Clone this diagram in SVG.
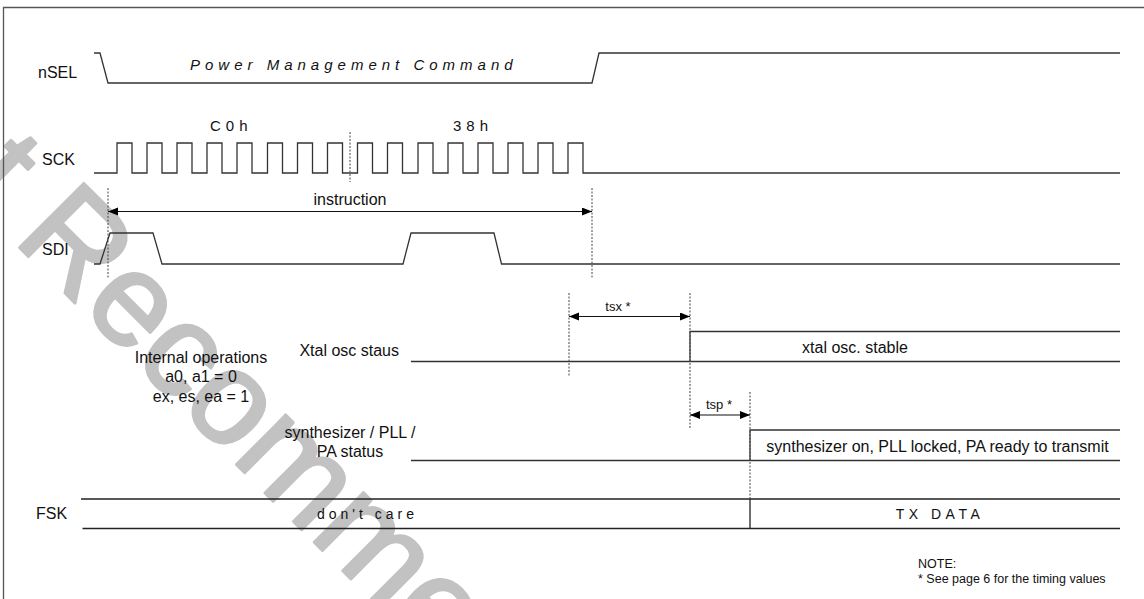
<svg xmlns="http://www.w3.org/2000/svg" width="1144" height="599" viewBox="0 0 1144 599">
<style>
.t{font-family:"Liberation Sans",Arial,sans-serif;font-size:16px;fill:#111}
.s{font-size:13px}
.n{font-size:12.5px}
.sp{font-size:14px;letter-spacing:4px}
.w{fill:none;stroke:#333;stroke-width:1.3}
.d{fill:none;stroke:#444;stroke-width:1;stroke-dasharray:2,1.5}
.a{fill:none;stroke:#111;stroke-width:1.2;marker-start:url(#ah);marker-end:url(#ah)}
.wm{font-family:"Liberation Sans",Arial,sans-serif;font-size:132px;fill:#c2c2c2;stroke:#c2c2c2;stroke-width:3;stroke-linejoin:round}
</style>
<defs>
<marker id="ah" markerUnits="userSpaceOnUse" markerWidth="11" markerHeight="9" refX="10" refY="4" orient="auto-start-reverse" viewBox="0 0 11 9">
<path d="M0,0 L10,4 L0,8 z" fill="#000"/>
</marker>
</defs>
<rect width="1144" height="599" fill="#fff"/>
<g id="watermark">
<text class="wm" x="-242" y="0" transform="translate(12,240) rotate(45)">Not Recommended</text>
</g>
<g id="frame">
<path d="M3.5,600 V7.5 H1144" fill="none" stroke="#555" stroke-width="1.3"/>
</g>
<g id="nSEL">
<text class="t" x="38" y="78">nSEL</text>
<path class="w" d="M94,53 H100 L108,83 H592 L599,53 H1120"/>
<text class="t" x="190" y="70" style="font-size:15px;font-style:italic;letter-spacing:5px">Power Management Command</text>
</g>
<g id="SCK">
<text class="t" x="42" y="165">SCK</text>
<path class="w" d="M94,173 H117 V143 H132 V173 H147 V143 H162 V173 H177 V143 H192 V173 H207 V143 H222 V173 H237 V143 H252 V173 H267.5 V143 H282.5 V173 H297.5 V143 H312.5 V173 H327.5 V143 H342.5 V173 H357.5 V143 H372.5 V173 H387.5 V143 H402.5 V173 H418 V143 H433 V173 H448 V143 H463 V173 H478 V143 H493 V173 H508 V143 H523 V173 H538 V143 H553 V173 H568 V143 H583 V173 H1120"/>
<text class="t" x="210" y="131" style="font-size:15px;letter-spacing:5px">C0h</text>
<text class="t" x="453" y="131" style="font-size:15px;letter-spacing:5px">38h</text>
</g>
<g id="SDI">
<text class="t" x="42" y="255">SDI</text>
<path class="w" d="M94,264 H100 L110,233 H153 L162,264 H403 L411,233 H494 L501.5,264 H1120"/>
</g>
<g id="internal-operations">
<text class="t" x="201" y="362.5" text-anchor="middle">Internal operations</text>
<text class="t" x="201" y="382" text-anchor="middle">a0, a1 = 0</text>
<text class="t" x="201" y="401.5" text-anchor="middle">ex, es, ea = 1</text>
</g>
<g id="xtal">
<text class="t" x="399" y="356" text-anchor="end">Xtal osc staus</text>
<path class="w" d="M411,361.5 H1120 M690,361.5 V331.5 H1120"/>
<text class="t" x="855" y="353" text-anchor="middle">xtal osc. stable</text>
</g>
<g id="synth">
<text class="t" x="350" y="438" text-anchor="middle">synthesizer / PLL /</text>
<text class="t" x="350" y="457" text-anchor="middle">PA status</text>
<path class="w" d="M411,460.5 H1120 M750,460.5 V430 H1120"/>
<text class="t" x="937.5" y="452" text-anchor="middle">synthesizer on, PLL locked, PA ready to transmit</text>
</g>
<g id="FSK">
<text class="t" x="36" y="519">FSK</text>
<path class="w" d="M81,499 H1120 M82.5,528.5 H1120 M750,499 V528.5" style="stroke:#222"/>
<text class="t sp" x="317" y="519">don't care</text>
<text class="t sp" x="940" y="519" text-anchor="middle" style="letter-spacing:4.5px">TX DATA</text>
</g>
<g id="connectors">
<path class="d" d="M350,132 V182 M108,188 V279 M592,188 V279 M569,293 V377 M690,293 V428 M750,392 V499"/>
<path class="a" d="M108,211.5 H592"/>
<path class="a" d="M569,316.5 H690"/>
<path class="a" d="M690,415 H750"/>
<text class="t" x="350" y="205" text-anchor="middle">instruction</text>
<text class="t s" x="618" y="311" text-anchor="middle">tsx *</text>
<text class="t s" x="719" y="409" text-anchor="middle">tsp *</text>
</g>
<g id="note">
<text class="t n" x="918" y="568">NOTE:</text>
<text class="t n" x="918" y="583">* See page 6 for the timing values</text>
</g>
</svg>
